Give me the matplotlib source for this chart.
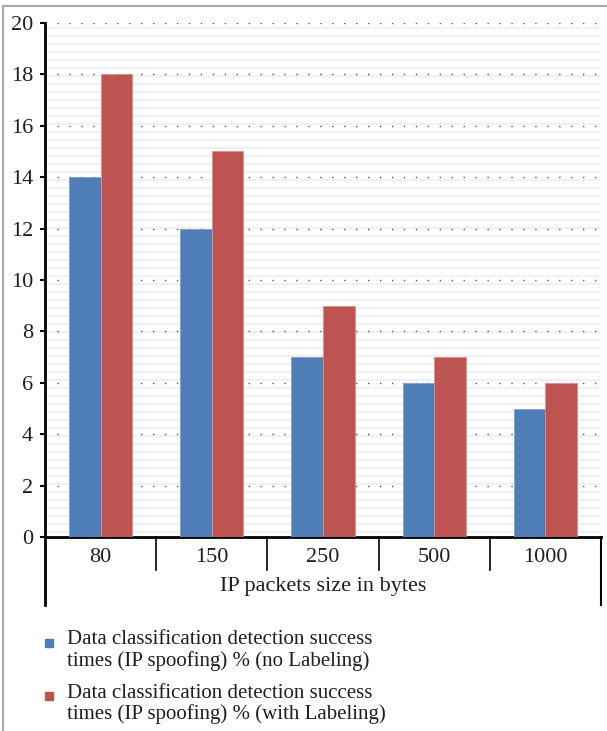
import numpy as np
import matplotlib
matplotlib.use("Agg")
from matplotlib import pyplot as plt
from matplotlib.patches import Rectangle
from matplotlib.lines import Line2D

# packet sizes and detection success per labeling mode
sizes = ["80", "150", "250", "500", "1000"]
no_labeling = [14, 12, 7, 6, 5]
with_labeling = [18, 15, 9, 7, 6]
series_names = [
    "Data classification detection success\ntimes (IP spoofing) % (no Labeling)",
    "Data classification detection success\ntimes (IP spoofing) % (with Labeling)",
]
y_ticks = [0, 2, 4, 6, 8, 10, 12, 14, 16, 18, 20]
x_label = "IP packets size in bytes"

blue = "#4F7DB8"
red = "#BE5451"
txt = "#1E1E1E"

plt.rcParams["font.family"] = ["Liberation Serif", "DejaVu Serif"]

W, H = 607, 731
fig = plt.figure(figsize=(W / 100, H / 100), dpi=100)

# plot area in pixels
x0, x1 = 45, 601
y_top, y_zero = 23, 537
ax = fig.add_axes([x0 / W, 1 - y_zero / H, (x1 - x0) / W, (y_zero - y_top) / H])

x = np.arange(len(sizes))
bw = 0.285
ax.set_xlim(-0.5, len(sizes) - 0.5)
ax.set_ylim(0, 20)

# faint horizontal stripes behind everything
for yy in np.arange(0.2, 20, 0.311):
    ax.axhline(yy, color="#F0F0F0", lw=1.6, zorder=0)

# dotted major gridlines
for t in y_ticks[1:]:
    ax.axhline(t, color="#555555", lw=1.0, ls=(0, (1, 7.6)), zorder=1)

ax.bar(x - bw / 2, no_labeling, bw, color=blue, edgecolor="#7FA0CC", lw=0.6, zorder=3)
ax.bar(x + bw / 2, with_labeling, bw, color=red, edgecolor="#D99090", lw=0.6, zorder=3)

ax.set_yticks(y_ticks)
ax.set_yticklabels([str(t) for t in y_ticks], fontsize=16, color=txt)
ax.tick_params(axis="y", length=3.5, width=1.5, color="black", pad=5)
ax.set_xticks(x)
ax.set_xticklabels(sizes, fontsize=16, color=txt)
ax.tick_params(axis="x", length=0, pad=8)

for side in ["top", "right"]:
    ax.spines[side].set_visible(False)
ax.spines["left"].set_linewidth(2)
ax.spines["bottom"].set_linewidth(2)

# category separators below the axis and the long outer lines
plot_h = y_zero - y_top
sep_y = -(570 - y_zero) / plot_h
end_y = -(605 - y_zero) / plot_h
for i in range(1, len(sizes)):
    ax.plot([i / len(sizes)] * 2, [0, sep_y], transform=ax.transAxes,
            color="black", lw=1.2, clip_on=False)
ax.plot([0, 0], [0, end_y], transform=ax.transAxes, color="black", lw=2, clip_on=False)
ax.plot([1, 1], [0, end_y], transform=ax.transAxes, color="black", lw=1.5, clip_on=False)

fig.text(((x0 + x1) / 2) / W, 1 - 587 / H, x_label, fontsize=16, color=txt,
         ha="center", va="center")

# legend drawn by hand so the swatch sits on the first line
leg_y = [640, 693]
for name, col, yy in zip(series_names, [blue, red], leg_y):
    fig.patches.append(Rectangle((45 / W, 1 - (yy + 7) / H), 8 / W, 8 / H,
                                 transform=fig.transFigure, color=col))
    for k, line in enumerate(name.split("\n")):
        fig.text(67 / W, 1 - (yy + 21 * k) / H, line, fontsize=15, color=txt,
                 ha="left", va="center")

# light frame on top and left
fig.add_artist(Line2D([3 / W, 3 / W], [0, 1 - 6 / H], color="#A8A8A8", lw=1.5))
fig.add_artist(Line2D([3 / W, 1], [1 - 6 / H, 1 - 6 / H], color="#A8A8A8", lw=1.5))

fig.savefig("out.png", dpi=100)
